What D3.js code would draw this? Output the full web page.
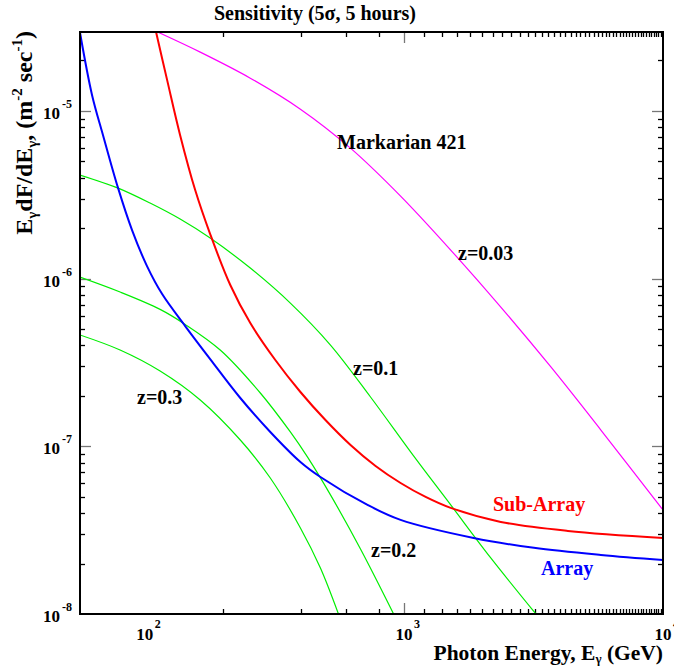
<!DOCTYPE html>
<html><head><meta charset="utf-8">
<script src="https://cdn.jsdelivr.net/npm/d3@7"></script>
<style>
body{margin:0;background:#fff}
text{font-family:"Liberation Serif","Times New Roman",serif;font-weight:bold}
</style>
</head><body><svg id="c" width="674" height="667"></svg>
<script>
// ---- data (photon energy in GeV, E dF/dE in m^-2 s^-1) ----
const arrayE = [56.2, 62.6, 69.0, 78.9, 89.3, 102, 116.7, 143.2, 178.8, 233.7, 305.1, 398.7, 476.3, 723.7, 971, 1859, 3175, 5758, 10000];
const arrayF = [2.94e-5, 1.24e-5, 7.16e-6, 3.46e-6, 1.945e-6, 1.187e-6, 8.08e-7, 5.21e-7, 3.31e-7, 1.94e-7, 1.217e-7, 8.06e-8, 6.56e-8, 4.47e-8, 3.64e-8, 2.84e-8, 2.48e-8, 2.25e-8, 2.10e-8];

const subArrayE = [110.6, 122, 136.9, 156.5, 178.8, 213.8, 255.4, 319, 398.7, 498, 622.3, 777.4, 971, 1213, 1516, 2366, 4295, 10000];
const subArrayF = [2.94e-5, 1.524e-5, 7.16e-6, 3.37e-6, 1.842e-6, 9.15e-7, 5.43e-7, 3.27e-7, 2.107e-7, 1.434e-7, 1.018e-7, 7.63e-8, 6.04e-8, 4.99e-8, 4.29e-8, 3.54e-8, 3.13e-8, 2.84e-8];

const mrk421E = [112.6, 163.7, 255.4, 398.7, 622, 971, 1516, 2366, 3692, 5758, 10000];
const mrk421F = [2.94e-5, 2.238e-5, 1.566e-5, 1.023e-5, 5.99e-6, 3.10e-6, 1.478e-6, 6.76e-7, 2.97e-7, 1.25e-7, 4.17e-8];

const z01E = [56.2, 78.9, 104.8, 136.9, 178.8, 255.4, 364.6, 520.8, 743.4, 1090, 1516, 2164, 3233];
const z01F = [4.14e-6, 3.46e-6, 2.818e-6, 2.262e-6, 1.743e-6, 1.155e-6, 7.14e-7, 4.015e-7, 1.967e-7, 8.76e-8, 4.47e-8, 2.16e-8, 1.0e-8];

const z02E = [56.2, 80.3, 114.6, 143.2, 195.5, 279.2, 364.6, 424.3, 520.8, 680, 912.7];
const z02F = [1.02e-6, 8.31e-7, 6.55e-7, 5.33e-7, 3.75e-7, 2.078e-7, 1.217e-7, 8.64e-8, 5.13e-8, 2.44e-8, 1.0e-8];

const z03E = [56.2, 80.3, 114.6, 163.7, 233.7, 305.1, 398.7, 476.3, 559];
const z03F = [4.61e-7, 3.75e-7, 2.81e-7, 1.888e-7, 1.09e-7, 6.47e-8, 3.26e-8, 1.88e-8, 1.0e-8];

const xMajorExps = [2, 3, 4];
const yMajorExps = [-5, -6, -7, -8];
const titleText = "Sensitivity (5\u03c3, 5 hours)";

// ---- layout ----
const svg = d3.select("#c");
const L = 80, R = 663, T = 32, B = 614;
const x = d3.scaleLog().domain([Math.pow(10, 1.75), 1e4]).range([L, R]);
const y = d3.scaleLog().domain([1e-8, Math.pow(10, -4.53)]).range([B, T]);

svg.append("defs").append("clipPath").attr("id", "clip")
  .append("rect").attr("x", L).attr("y", T).attr("width", R - L).attr("height", B - T);

// ---- ticks (drawn from the scales) ----
function isMajor(v) { const l = Math.log10(v); return Math.abs(l - Math.round(l)) < 1e-6; }
const xAll = x.ticks(50).filter(v => v >= x.domain()[0] * 1.0001 && v <= x.domain()[1] * 0.9999);
const yAll = y.ticks(50).filter(v => v >= y.domain()[0] * 1.0001 && v <= y.domain()[1] * 0.9999);
const tg = svg.append("g");
xAll.forEach(v => {
  const maj = isMajor(v), len = maj ? 11 : 5, col = maj ? "#777" : "#000", px = Math.round(x(v)) + 0.5;
  tg.append("line").attr("x1", px).attr("x2", px).attr("y1", B).attr("y2", B - len).attr("stroke", col).attr("stroke-width", 1.3);
  tg.append("line").attr("x1", px).attr("x2", px).attr("y1", T).attr("y2", T + len).attr("stroke", col).attr("stroke-width", 1.3);
});
yAll.forEach(v => {
  const maj = isMajor(v), len = maj ? 11 : 5, col = maj ? "#777" : "#000", py = Math.round(y(v)) + 0.5;
  tg.append("line").attr("y1", py).attr("y2", py).attr("x1", L).attr("x2", L + len).attr("stroke", col).attr("stroke-width", 1.3);
  tg.append("line").attr("y1", py).attr("y2", py).attr("x1", R).attr("x2", R - len).attr("stroke", col).attr("stroke-width", 1.3);
});

// ---- curves ----
const line = d3.line().x(d => x(d[0])).y(d => y(d[1])).curve(d3.curveCatmullRom.alpha(0.5));
const plot = svg.append("g").attr("clip-path", "url(#clip)");
function curve(E, F, color, w) {
  plot.append("path").datum(E.map((e, i) => [e, F[i]]))
    .attr("d", line).attr("fill", "none").attr("stroke", color).attr("stroke-width", w);
}
curve(z01E, z01F, "#00ee00", 1.2);
curve(z02E, z02F, "#00ee00", 1.2);
curve(z03E, z03F, "#00ee00", 1.2);
curve(mrk421E, mrk421F, "#ff00ff", 1.2);
curve(subArrayE, subArrayF, "#ff0000", 2);
curve(arrayE, arrayF, "#0000ff", 2);

// ---- frame ----
svg.append("rect").attr("x", L).attr("y", T).attr("width", R - L).attr("height", B - T)
  .attr("fill", "none").attr("stroke", "#000").attr("stroke-width", 2);

// ---- tick labels ----
xMajorExps.forEach(e => {
  const px = x(Math.pow(10, e));
  svg.append("text").attr("x", px).attr("y", 640).attr("font-size", 17).attr("text-anchor", "middle").text("10");
  svg.append("text").attr("x", px + 10).attr("y", 628).attr("font-size", 12).attr("text-anchor", "start").text(String(e));
});
yMajorExps.forEach(e => {
  const py = y(Math.pow(10, e));
  svg.append("text").attr("x", 60).attr("y", py + 8).attr("font-size", 17).attr("text-anchor", "end").text("10");
  svg.append("text").attr("x", 62).attr("y", py - 3).attr("font-size", 12).attr("text-anchor", "start").text(String(e));
});

// ---- titles ----
svg.append("text").attr("x", 315).attr("y", 20).attr("text-anchor", "middle").attr("font-size", 20).text(titleText);

const xt = svg.append("text").attr("x", 663).attr("y", 660).attr("text-anchor", "end").attr("font-size", 21.5);
xt.append("tspan").text("Photon Energy, E");
xt.append("tspan").attr("font-size", 13).attr("dy", 3).text("\u03b3");
xt.append("tspan").attr("dy", -3).text(" (GeV)");

const yt = svg.append("text").attr("transform", "translate(32,31) rotate(-90)").attr("text-anchor", "end").attr("font-size", 24);
yt.append("tspan").text("E");
yt.append("tspan").attr("font-size", 15).attr("dy", 5).text("\u03b3");
yt.append("tspan").attr("dy", -5).text("dF/dE");
yt.append("tspan").attr("font-size", 15).attr("dy", 5).text("\u03b3");
yt.append("tspan").attr("dy", -5).text(", (m");
yt.append("tspan").attr("font-size", 15).attr("dy", -10).text("-2");
yt.append("tspan").attr("dy", 10).text(" sec");
yt.append("tspan").attr("font-size", 15).attr("dy", -10).text("-1");
yt.append("tspan").attr("dy", 10).text(")");

// ---- annotations ----
const notes = [
  {t: "Markarian 421", x: 337, y: 149, c: "#000"},
  {t: "z=0.03", x: 458, y: 260, c: "#000"},
  {t: "z=0.1", x: 353, y: 375, c: "#000"},
  {t: "z=0.3", x: 137, y: 404, c: "#000"},
  {t: "z=0.2", x: 371, y: 557, c: "#000"},
  {t: "Sub-Array", x: 493, y: 511, c: "#ff0000"},
  {t: "Array", x: 541, y: 575, c: "#0000ff"}
];
notes.forEach(n => svg.append("text").attr("x", n.x).attr("y", n.y).attr("font-size", 20).attr("fill", n.c).text(n.t));
</script>
</body></html>
